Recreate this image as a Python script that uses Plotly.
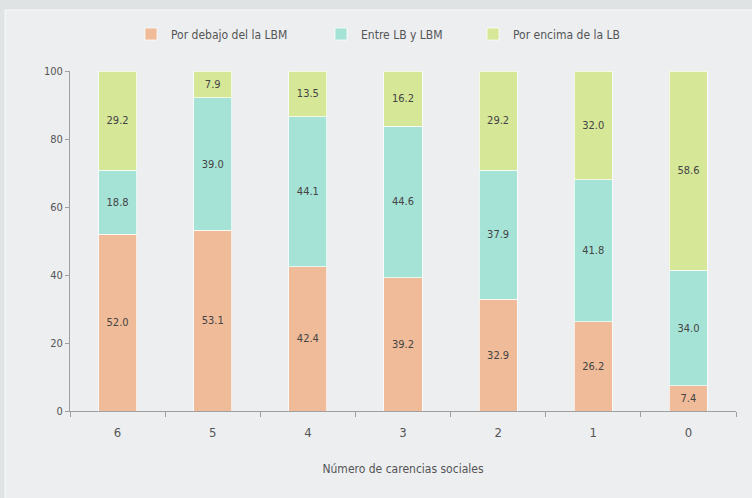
import plotly.graph_objects as go

categories = ["6", "5", "4", "3", "2", "1", "0"]
below = [52.0, 53.1, 42.4, 39.2, 32.9, 26.2, 7.4]
between = [18.8, 39.0, 44.1, 44.6, 37.9, 41.8, 34.0]
above = [29.2, 7.9, 13.5, 16.2, 29.2, 32.0, 58.6]
names = ["Por debajo del la LBM", "Entre LB y LBM", "Por encima de la LB"]
colors = ["#efbb98", "#a6e3d7", "#d6e798"]

FONT = "DejaVu Sans Condensed, Liberation Sans Narrow, Roboto, Arial"
L, R, T, B = 70, 16, 71, 87
W, H = 752, 498
pw, ph = W - L - R, H - T - B
legend_ids = ["legend", "legend2", "legend3"]

fig = go.Figure()
for vals, nm, col, lg in zip([below, between, above], names, colors, legend_ids):
    fig.add_trace(go.Bar(
        x=categories, y=vals, name=nm, showlegend=True,
        marker=dict(color=col, line=dict(color="rgba(255,255,255,0.7)", width=1)),
        width=0.4,
        text=[f"{v:.1f}" for v in vals], textposition="inside",
        insidetextanchor="middle",
        textfont=dict(color="#444444", size=11, family=FONT),
        legend=lg,
    ))

def leg(xpx):
    return dict(x=(xpx - L) / pw, xanchor="left", y=(H - B - 34) / ph, yanchor="middle",
                orientation="h", bgcolor="rgba(0,0,0,0)", visible=True,
                font=dict(family=FONT, size=12, color="#555555"))

fig.update_layout(
    width=W, height=H,
    margin=dict(l=L, r=R, t=T, b=B, autoexpand=False),
    barmode="stack",
    paper_bgcolor="#e0e3e4",
    plot_bgcolor="rgba(0,0,0,0)",
    font=dict(family=FONT, size=12, color="#555555"),
    showlegend=True,
    legend=leg(131), legend2=leg(321), legend3=leg(473),
    shapes=[dict(type="rect", xref="paper", yref="paper", layer="below",
                 x0=(5 - L) / pw, x1=(W + 5 - L) / pw,
                 y0=(H - B - W) / ph, y1=(H - B - 10) / ph,
                 fillcolor="#eceef0", line=dict(color="#f6f7f8", width=1))],
    xaxis=dict(title=dict(text="Número de carencias sociales", standoff=26,
                          font=dict(size=12, color="#555555")),
               showline=True, linecolor="#a0a0a0", linewidth=1,
               ticks="outside", tickson="boundaries", ticklen=5, tickcolor="#a0a0a0",
               ticklabelstandoff=9,
               tickfont=dict(size=13, color="#555555"), showgrid=False),
    yaxis=dict(range=[0, 100], tickvals=[0, 20, 40, 60, 80, 100],
               showline=True, linecolor="#a0a0a0", linewidth=1,
               ticks="outside", ticklen=4, tickcolor="#a0a0a0",
               tickfont=dict(size=11, color="#555555"), showgrid=False, zeroline=False),
)
fig.write_html("out.html", config={"displayModeBar": False},
               post_script="document.body.style.margin='0';document.body.style.overflow='hidden';")
